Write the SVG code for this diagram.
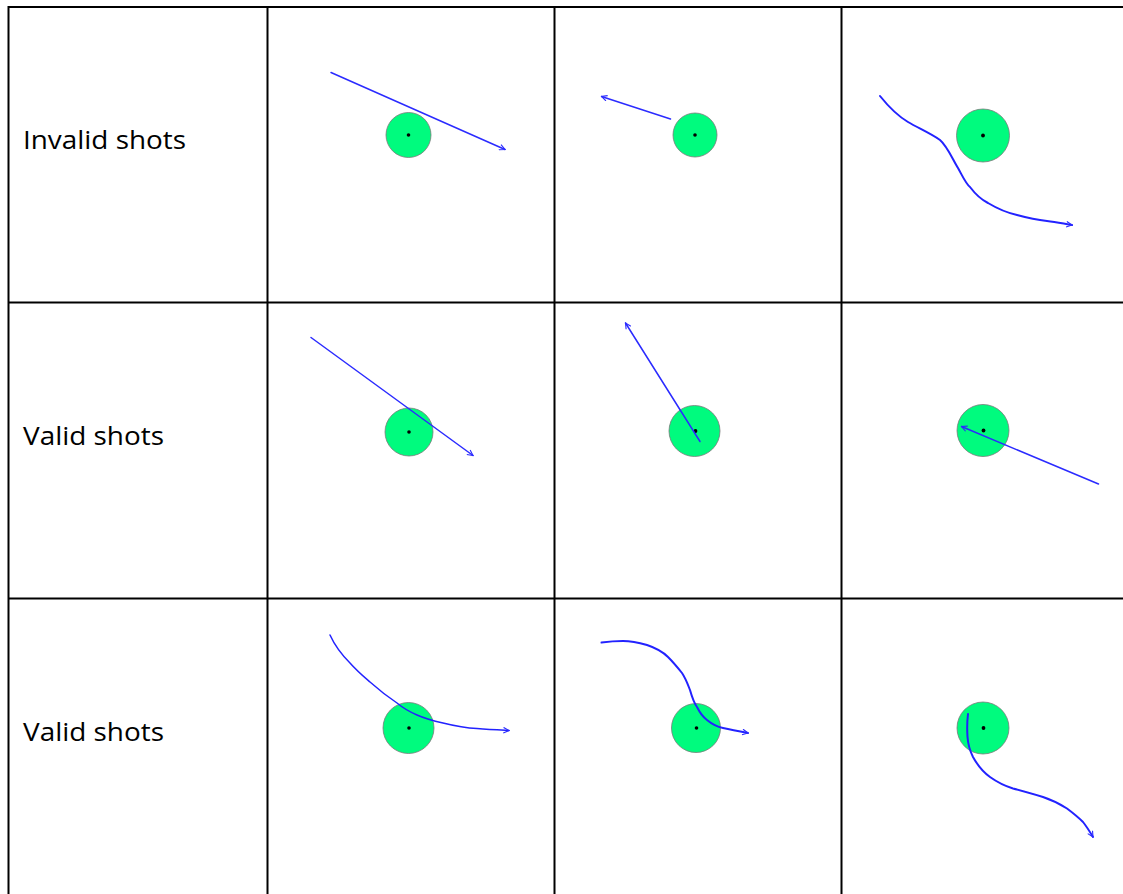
<svg xmlns="http://www.w3.org/2000/svg" width="1123" height="894" viewBox="0 0 1123 894">
<style>
.grid{stroke:#000;stroke-width:2;fill:none}
.lbl{font-family:"Open Sans","Liberation Sans",Arial,sans-serif;font-size:26px;fill:#000}
.ball{fill:#00fb7e;stroke:#7a7a7a;stroke-width:0.8}
.dot{fill:#000}
.shot{fill:none;stroke:#2b2bff;stroke-width:1.5;stroke-linecap:round;stroke-linejoin:round}
.curve{fill:none;stroke:#2222ff;stroke-width:2;stroke-linecap:round;stroke-linejoin:round}
</style>
<defs>
<marker id="ah" viewBox="0 0 10 10" refX="9" refY="5" markerWidth="7" markerHeight="7" markerUnits="userSpaceOnUse" orient="auto">
<path d="M1,1 L9,5 L1,9" fill="none" stroke="#2b2bff" stroke-width="1.6"/>
</marker>
</defs>
<rect width="1123" height="894" fill="#fff"/>
<g id="table">
<path class="grid" d="M8.5,7 H1123 M8.5,302.5 H1123 M8.5,598.5 H1123 M8.5,6 V894 M267.5,6 V894 M554.5,6 V894 M841.5,6 V894"/>
</g>
<g id="labels">
<text class="lbl" x="23" y="149" textLength="163" lengthAdjust="spacingAndGlyphs">Invalid shots</text>
<text class="lbl" x="23" y="445" textLength="141" lengthAdjust="spacingAndGlyphs">Valid shots</text>
<text class="lbl" x="23" y="741" textLength="141" lengthAdjust="spacingAndGlyphs">Valid shots</text>
</g>
<g id="balls">
<g id="b11"><circle class="ball" cx="408.5" cy="135" r="22.5"/><circle class="dot" cx="408.5" cy="135" r="1.8"/></g>
<g id="b12"><circle class="ball" cx="695" cy="135" r="22"/><circle class="dot" cx="695" cy="135" r="1.8"/></g>
<g id="b13"><circle class="ball" cx="983" cy="135.5" r="26.5"/><circle class="dot" cx="983" cy="135.5" r="1.9"/></g>
<g id="b21"><circle class="ball" cx="409" cy="432" r="24"/><circle class="dot" cx="409" cy="432" r="1.8"/></g>
<g id="b22"><circle class="ball" cx="694.5" cy="431" r="25.5"/><circle class="dot" cx="695.5" cy="431" r="1.9"/></g>
<g id="b23"><circle class="ball" cx="983" cy="430.5" r="26"/><circle class="dot" cx="983.5" cy="430.5" r="1.9"/></g>
<g id="b31"><circle class="ball" cx="408.5" cy="728" r="25.5"/><circle class="dot" cx="409" cy="728" r="1.8"/></g>
<g id="b32"><circle class="ball" cx="696" cy="728" r="24.5"/><circle class="dot" cx="696.5" cy="728" r="1.8"/></g>
<g id="b33"><circle class="ball" cx="983" cy="728" r="26"/><circle class="dot" cx="983.5" cy="728" r="1.9"/></g>
</g>
<g id="connectors">
<line class="shot" x1="331" y1="72.5" x2="505" y2="149.5" marker-end="url(#ah)"/>
<line class="shot" x1="670.5" y1="119" x2="601.5" y2="96.5" marker-end="url(#ah)"/>
<path class="curve" d="M880,96 C888,106 898,116 908,122 C918,128 930,133 940,140 C947,146 952,158 958,168 C963,177 966,184 970,187 C976,195 982,200 988,203 C998,209 1008,213 1017,215 C1028,218 1038,220 1047,221 C1057,222 1065,224 1072,225" marker-end="url(#ah)"/>
<line class="shot" x1="311" y1="337.5" x2="473" y2="455.5" marker-end="url(#ah)"/>
<line class="shot" x1="700" y1="441.5" x2="625.5" y2="323" marker-end="url(#ah)"/>
<line class="shot" x1="1098.5" y1="484" x2="961.5" y2="426.5" marker-end="url(#ah)"/>
<path class="curve" style="stroke-width:1.5" d="M330,635 C335,646 342,655 350,663 C357,671 363,676 370,682 C379,690 388,697 397,703 C403,708 410,712 417,715 C426,719 434,721 443,723 C455,726 466,728 477,728.5 C490,729.5 500,730 509,730.5" marker-end="url(#ah)"/>
<path class="curve" d="M601.5,642.5 C609,641.5 616,641 623,641 C632,641 640,643 647,645 C656,648 663,652 668,657 C674,663 678,668 682,673 C686,679 688,685 690,690 C692,697 694,703 697,707 C700,713 703,717 707,720 C713,725 718,727 723,728 C732,730 740,731.5 748,733" marker-end="url(#ah)"/>
<path class="curve" d="M968,714 C967,722 967,729 967.5,737 C968,744 970,751 973,757 C978,766 983,772 990,777 C997,782 1005,786 1013,788.5 C1023,791 1033,794 1043,797 C1052,800 1060,804 1067,808.5 C1073,813 1078,817 1083,822 C1087,827 1090,832 1093,837" marker-end="url(#ah)"/>
</g>
</svg>
